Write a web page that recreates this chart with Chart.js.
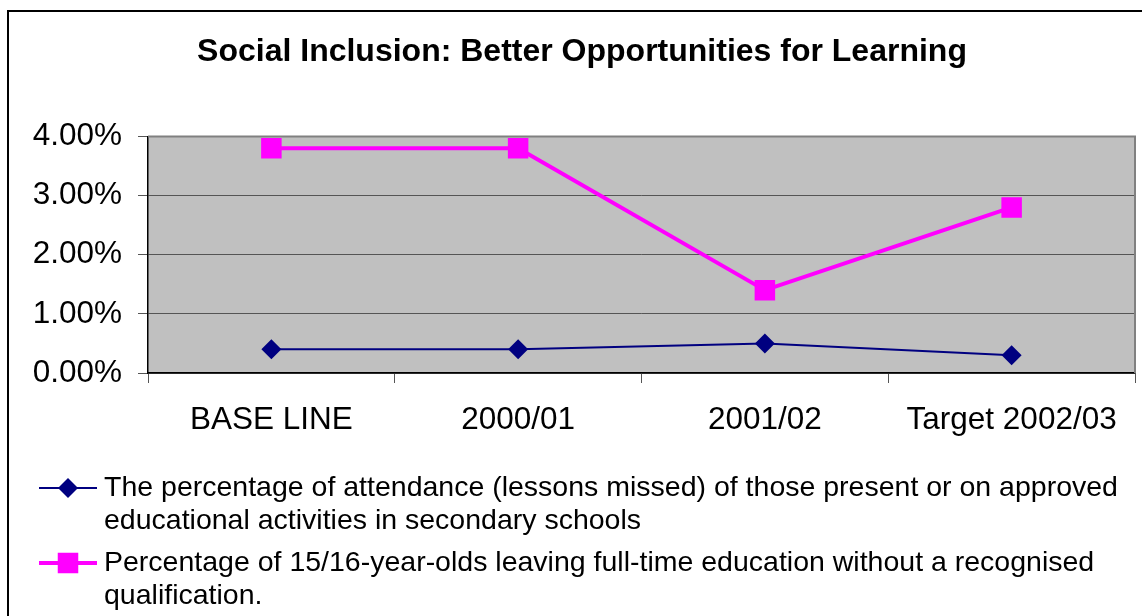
<!DOCTYPE html>
<html>
<head>
<meta charset="utf-8">
<title>Social Inclusion: Better Opportunities for Learning</title>
<script src="https://cdn.jsdelivr.net/npm/chart.js@4.4.1/dist/chart.umd.min.js"></script>
<style>
  html, body { margin: 0; padding: 0; background: #fff; }
  canvas { display: block; }
</style>
</head>
<body>
<canvas id="chart" width="1142" height="616"></canvas>
<script>
const FONT = '"Liberation Sans", Arial, sans-serif';

const periods = ['BASE LINE', '2000/01', '2001/02', 'Target 2002/03'];
const attendanceMissed = [0.4, 0.4, 0.5, 0.3];
const leftWithoutQualification = [3.8, 3.8, 1.4, 2.8];
const seriesNames = [
  'The percentage of attendance (lessons missed) of those present or on approved educational activities in secondary schools',
  'Percentage of 15/16-year-olds leaving full-time education without a recognised qualification.'
];
const yMin = 0;
const yMax = 4;
const yStep = 1;

// white page, outer frame and grey plot background
const framePlugin = {
  id: 'frame',
  beforeDraw(chart) {
    const { ctx, chartArea: a } = chart;
    ctx.save();
    ctx.fillStyle = '#fff';
    ctx.fillRect(0, 0, chart.width, chart.height);
    ctx.strokeStyle = '#000';
    ctx.lineWidth = 2;
    ctx.strokeRect(8, 11, 1400, 900);
    ctx.fillStyle = '#C0C0C0';
    ctx.fillRect(a.left, a.top, a.right - a.left, a.bottom - a.top);
    ctx.restore();
  },
  beforeDatasetsDraw(chart) {
    const { ctx, chartArea: a } = chart;
    ctx.save();
    ctx.strokeStyle = '#808080';
    ctx.lineWidth = 2;
    ctx.beginPath();
    ctx.moveTo(a.left, a.top);
    ctx.lineTo(a.right, a.top);
    ctx.lineTo(a.right, a.bottom);
    ctx.stroke();
    ctx.restore();
  }
};

// legend below the plot, with wrapped text
const wrapLegendPlugin = {
  id: 'wrapLegend',
  afterDraw(chart) {
    const { ctx } = chart;
    const textX = 104;
    const maxW = 1031;
    const lineH = 33;
    let y = 488;
    ctx.save();
    ctx.font = '28.5px ' + FONT;
    ctx.textBaseline = 'middle';
    chart.data.datasets.forEach((ds) => {
      // sample line
      ctx.strokeStyle = ds.borderColor;
      ctx.lineWidth = ds.borderWidth;
      ctx.beginPath();
      ctx.moveTo(39, y);
      ctx.lineTo(97, y);
      ctx.stroke();
      // marker
      ctx.fillStyle = ds.pointBackgroundColor;
      if (ds.pointStyle === 'rectRot') {
        const r = ds.pointRadius;
        ctx.beginPath();
        ctx.moveTo(68 - r, y);
        ctx.lineTo(68, y - r);
        ctx.lineTo(68 + r, y);
        ctx.lineTo(68, y + r);
        ctx.closePath();
        ctx.fill();
      } else {
        const s = ds.pointRadius * Math.SQRT1_2;
        ctx.fillRect(68 - s, y - s, 2 * s, 2 * s);
      }
      // text
      ctx.fillStyle = '#000';
      const words = ds.label.split(' ');
      let line = '';
      const lines = [];
      words.forEach((w) => {
        const test = line ? line + ' ' + w : w;
        if (ctx.measureText(test).width > maxW && line) {
          lines.push(line);
          line = w;
        } else {
          line = test;
        }
      });
      lines.push(line);
      lines.forEach((l, i) => ctx.fillText(l, textX, y + i * lineH));
      y += lines.length * lineH + 9;
    });
    ctx.restore();
  }
};

new Chart(document.getElementById('chart'), {
  type: 'line',
  data: {
    labels: periods,
    datasets: [
      {
        label: seriesNames[0],
        data: attendanceMissed,
        borderColor: '#000080',
        borderWidth: 2,
        pointStyle: 'rectRot',
        pointRadius: 10,
        pointHoverRadius: 10,
        pointBackgroundColor: '#000080',
        pointBorderWidth: 0,
        tension: 0
      },
      {
        label: seriesNames[1],
        data: leftWithoutQualification,
        borderColor: '#FF00FF',
        borderWidth: 4,
        pointStyle: 'rect',
        pointRadius: 14.5,
        pointHoverRadius: 14.5,
        pointBackgroundColor: '#FF00FF',
        pointBorderWidth: 0,
        tension: 0
      }
    ]
  },
  options: {
    responsive: false,
    animation: false,
    layout: {
      autoPadding: false,
      padding: { top: 12, left: 29, right: 7, bottom: 163 }
    },
    plugins: {
      legend: { display: false },
      tooltip: { enabled: false },
      title: {
        display: true,
        text: 'Social Inclusion: Better Opportunities for Learning',
        color: '#000',
        font: { family: FONT, size: 32, weight: 'bold' },
        padding: { top: 21, bottom: 65 }
      }
    },
    scales: {
      x: {
        offset: true,
        afterFit: (s) => {
          s.height = 80;
          s.paddingLeft = 0;
          s.paddingRight = 0;
        },
        grid: {
          offset: true,
          drawOnChartArea: false,
          tickLength: 10,
          tickColor: '#555'
        },
        border: { color: '#000', width: 1.5 },
        ticks: {
          color: '#000',
          padding: 18,
          maxRotation: 0,
          font: { family: FONT, size: 31.5 }
        }
      },
      y: {
        min: yMin,
        max: yMax,
        afterFit: (s) => { s.width = 119; },
        grid: {
          color: '#555',
          lineWidth: 1,
          tickLength: 10,
          tickColor: '#555'
        },
        border: { color: '#000', width: 1.5 },
        ticks: {
          stepSize: yStep,
          color: '#000',
          padding: 16,
          font: { family: FONT, size: 31.5 },
          callback: (v) => v.toFixed(2) + '%'
        }
      }
    }
  },
  plugins: [framePlugin, wrapLegendPlugin]
});
</script>
</body>
</html>
